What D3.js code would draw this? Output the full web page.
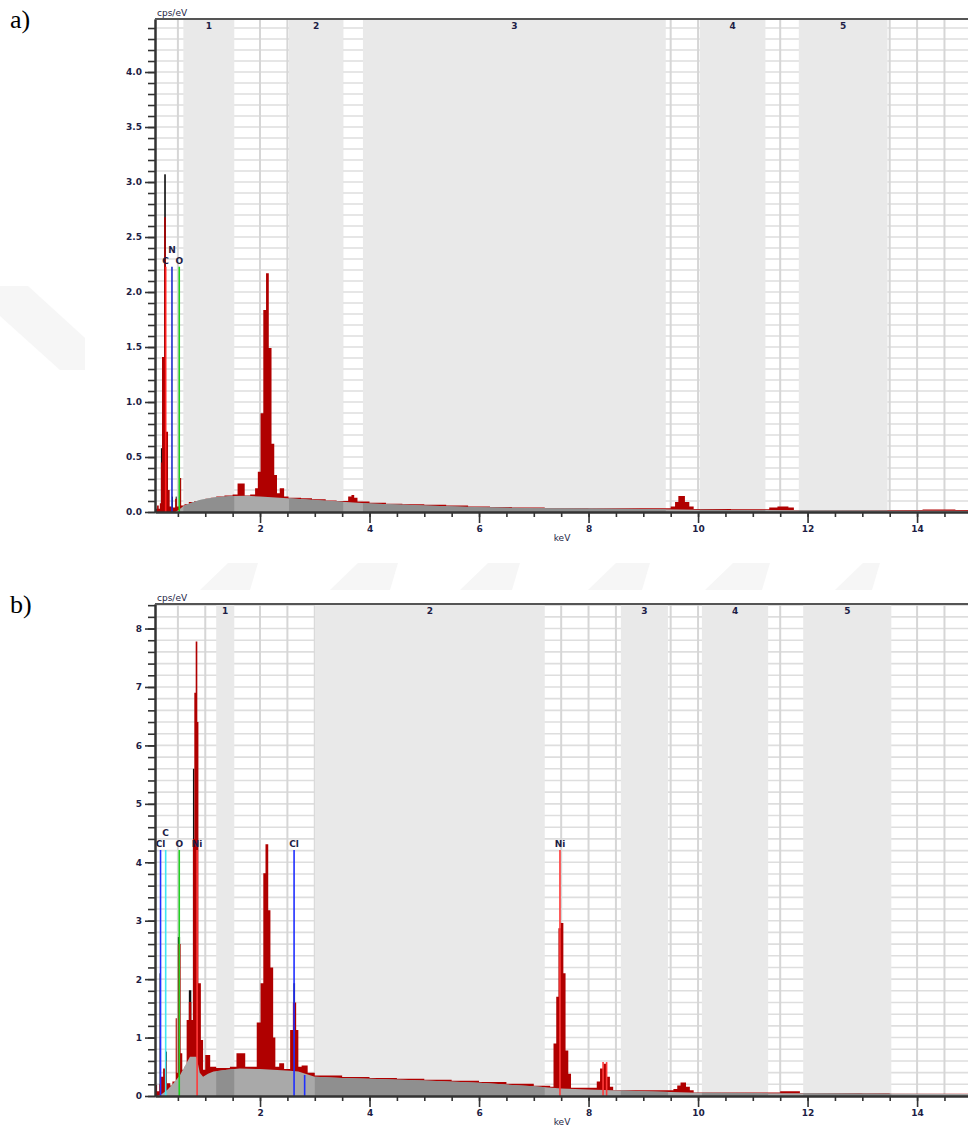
<!DOCTYPE html>
<html>
<head>
<meta charset="utf-8">
<script src="https://cdn.jsdelivr.net/npm/d3@7"></script>
<style>
  html, body { margin: 0; padding: 0; background: #ffffff; }
  svg { display: block; }
  .tick text { font-family: "DejaVu Sans", sans-serif; font-size: 9px; font-weight: bold; fill: #1d1d45; }
  .small { font-family: "DejaVu Sans", sans-serif; font-size: 9px; font-weight: bold; fill: #1d1d45; }
  .panel-tag { font-family: "Liberation Serif", serif; font-size: 26px; fill: #000; }
</style>
</head>
<body>
<svg id="chart" width="968" height="1131"></svg>
<script>
// ---------- shared axis data ----------
const keVRange = [0.082, 14.93];
const xMajorTicks = [2, 4, 6, 8, 10, 12, 14];

// ---------- spectrum a) ----------
const bandsA = [[0.60, 1.53], [2.53, 3.52], [3.88, 9.41], [10.03, 11.23], [11.84, 13.46]];
const bandNamesA = ["1", "2", "3", "4", "5"];
const yMajorTicksA = [0, 0.5, 1.0, 1.5, 2.0, 2.5, 3.0, 3.5, 4.0];
// fitted spectrum, step bins: [start keV, cps/eV]
const spectrumA = [
  [0.082, 0.03], [0.12, 0.06], [0.15, 0.03], [0.17, 0.08], [0.19, 0.45], [0.21, 1.41],
  [0.25, 2.68], [0.28, 0.73], [0.32, 0.20], [0.35, 0.05], [0.39, 0.04], [0.45, 0.12],
  [0.48, 0.05], [0.52, 0.31], [0.56, 0.06], [0.62, 0.07], [0.70, 0.09], [0.80, 0.10],
  [0.90, 0.11], [1.00, 0.12], [1.10, 0.13], [1.20, 0.14], [1.35, 0.15], [1.50, 0.16],
  [1.59, 0.26], [1.72, 0.15], [1.82, 0.16], [1.91, 0.215], [1.96, 0.367], [2.01, 0.897],
  [2.06, 1.836], [2.11, 2.17], [2.16, 1.49], [2.21, 0.62], [2.26, 0.336], [2.31, 0.17],
  [2.36, 0.215], [2.44, 0.14], [2.52, 0.13], [2.75, 0.125], [2.95, 0.115], [3.20, 0.105],
  [3.40, 0.10], [3.61, 0.14], [3.67, 0.155], [3.72, 0.13], [3.78, 0.095], [4.00, 0.085],
  [4.30, 0.075], [4.60, 0.07], [5.00, 0.065], [5.40, 0.06], [5.80, 0.05], [6.20, 0.045],
  [6.60, 0.04], [7.20, 0.037], [8.00, 0.035], [8.80, 0.033], [9.50, 0.05], [9.58, 0.09],
  [9.64, 0.145], [9.76, 0.09], [9.84, 0.05], [9.92, 0.028], [10.60, 0.025], [11.30, 0.04],
  [11.45, 0.05], [11.65, 0.04], [11.75, 0.018], [14.10, 0.022], [14.70, 0.018], [14.93, 0.018]
];
// measured counts where they exceed the fit: [from keV, to keV, cps/eV]
const measuredA = [
  [0.19, 0.21, 0.58], [0.25, 0.28, 3.07], [0.29, 0.31, 0.55], [0.39, 0.41, 0.14], [0.46, 0.47, 0.14]
];
// bremsstrahlung background: [keV, cps/eV]
const backgroundA = [
  [0.082, 0], [0.45, 0], [0.52, 0.02], [0.60, 0.055], [0.75, 0.085], [0.90, 0.108],
  [1.05, 0.122], [1.20, 0.133], [1.50, 0.145], [1.75, 0.148], [2.00, 0.14], [2.50, 0.125],
  [3.00, 0.11], [3.50, 0.094], [4.00, 0.078], [5.00, 0.058], [6.00, 0.043], [7.00, 0.034],
  [8.00, 0.031], [9.00, 0.028], [10.00, 0.02], [12.00, 0.015], [14.93, 0.012]
];
// identified lines: [element, keV, marker height cps/eV]
const elementLinesA = [["C", 0.277, 2.23], ["N", 0.392, 2.23], ["O", 0.525, 2.23]];
const minorLinesA = [];
const lineColorsA = { C: "#ff1e1e", N: "#1f2fc8", O: "#22d022" };

// ---------- spectrum b) ----------
const bandsB = [[1.20, 1.53], [3.00, 7.20], [8.59, 9.45], [10.07, 11.28], [11.92, 13.53]];
const bandNamesB = ["1", "2", "3", "4", "5"];
const yMajorTicksB = [0, 1, 2, 3, 4, 5, 6, 7, 8];
const spectrumB = [
  [0.082, 0.19], [0.12, 0.08], [0.16, 0.20], [0.19, 0.33], [0.23, 0.47], [0.27, 0.60],
  [0.30, 0.22], [0.36, 0.18], [0.40, 0.25], [0.46, 1.33], [0.48, 0.40], [0.50, 2.60],
  [0.55, 0.73], [0.58, 0.45], [0.62, 0.50], [0.66, 1.30], [0.70, 1.61], [0.745, 1.30],
  [0.775, 4.40], [0.80, 6.90], [0.825, 7.78], [0.855, 6.40], [0.875, 1.93], [0.92, 0.96],
  [0.96, 0.45], [1.00, 0.70], [1.09, 0.50], [1.20, 0.48], [1.45, 0.50], [1.57, 0.73],
  [1.73, 0.50], [1.94, 1.26], [2.01, 1.93], [2.06, 3.81], [2.10, 4.31], [2.15, 3.18],
  [2.19, 2.20], [2.24, 1.00], [2.28, 0.50], [2.35, 0.56], [2.44, 0.46], [2.55, 1.13],
  [2.60, 1.60], [2.66, 1.13], [2.70, 0.50], [2.76, 0.52], [2.87, 0.40], [3.00, 0.35],
  [3.50, 0.325], [4.00, 0.31], [4.50, 0.295], [5.00, 0.28], [5.50, 0.26], [6.00, 0.24],
  [6.50, 0.21], [7.00, 0.175], [7.30, 0.16], [7.36, 0.90], [7.41, 1.70], [7.45, 2.87],
  [7.49, 2.96], [7.54, 2.10], [7.58, 0.78], [7.63, 0.38], [7.68, 0.14], [8.15, 0.25],
  [8.21, 0.47], [8.27, 0.55], [8.33, 0.33], [8.39, 0.16], [8.45, 0.10], [9.55, 0.12],
  [9.62, 0.18], [9.68, 0.23], [9.78, 0.16], [9.85, 0.10], [9.92, 0.06], [11.50, 0.08],
  [11.86, 0.05], [13.00, 0.045], [13.50, 0.04], [14.93, 0.04]
];
const measuredB = [
  [0.165, 0.19, 2.10], [0.27, 0.30, 0.76], [0.50, 0.54, 2.72], [0.70, 0.745, 1.81],
  [0.775, 0.80, 5.60], [2.61, 2.64, 1.93]
];
const backgroundB = [
  [0.082, 0], [0.12, 0], [0.20, 0.03], [0.30, 0.10], [0.42, 0.22], [0.54, 0.36],
  [0.65, 0.55], [0.72, 0.67], [0.84, 0.67], [0.90, 0.40], [0.96, 0.33], [1.05, 0.38],
  [1.15, 0.42], [1.40, 0.45], [1.63, 0.47], [2.00, 0.46], [2.55, 0.43], [2.70, 0.42],
  [3.00, 0.33], [3.50, 0.31], [4.00, 0.295], [5.00, 0.265], [6.00, 0.225], [7.00, 0.165],
  [7.50, 0.13], [8.00, 0.11], [9.00, 0.08], [10.00, 0.055], [11.00, 0.05], [12.00, 0.045],
  [14.93, 0.035]
];
const elementLinesB = [["Cl", 0.183, 4.21], ["C", 0.277, 4.21], ["O", 0.525, 4.21],
                       ["Ni", 0.851, 4.21], ["Cl", 2.622, 4.21], ["Ni", 7.478, 4.21]];
const minorLinesB = [["Cl", 2.815, 0.36], ["Ni", 8.265, 0.58], ["Ni", 8.33, 0.58]];
const lineColorsB = { Cl: "#1f2fff", C: "#3ee6f2", O: "#22d022", Ni: "#ff3a3a" };

// ---------- drawing ----------
const svg = d3.select("#chart");

// faint watermark shapes of the page
const wm = svg.append("g").attr("fill", "#f6f6f6");
wm.append("polygon").attr("points", "0,286 28,286 85,338 85,370 60,370 0,316");
[[200, 258], [330, 398], [460, 520], [588, 650], [705, 770], [835, 880]].forEach(([a, b]) => {
  wm.append("polygon").attr("points", `${a},590 ${a + 28},563 ${b},563 ${b - 8},590`);
});

function drawPanel(cfg, idx) {
  const x = d3.scaleLinear().domain(keVRange).range([cfg.left, cfg.right]);
  const y = d3.scaleLinear().domain([0, cfg.yMax]).range([cfg.bottom, cfg.top]);
  const g = svg.append("g");
  const clipId = "plot-clip-" + idx;
  const bandClipId = "band-clip-" + idx;

  const defs = svg.append("defs");
  defs.append("clipPath").attr("id", clipId).append("rect")
    .attr("x", cfg.left).attr("y", cfg.top)
    .attr("width", cfg.right - cfg.left).attr("height", cfg.bottom - cfg.top);
  defs.append("clipPath").attr("id", bandClipId).selectAll("rect").data(cfg.bands).join("rect")
    .attr("x", d => x(d[0])).attr("y", cfg.top)
    .attr("width", d => x(d[1]) - x(d[0])).attr("height", cfg.bottom - cfg.top);

  const plot = g.append("g").attr("clip-path", `url(#${clipId})`);

  // grid
  const hGrid = d3.range(cfg.yMinor, cfg.yMax, cfg.yMinor);
  plot.append("g").selectAll("line").data(hGrid).join("line")
    .attr("x1", cfg.left).attr("x2", cfg.right)
    .attr("y1", d => y(d)).attr("y2", d => y(d))
    .attr("stroke", "#dedede").attr("stroke-width", 1.6);
  const vGrid = d3.range(0.5, 15.01, 0.5);
  plot.append("g").selectAll("line").data(vGrid).join("line")
    .attr("x1", d => x(d)).attr("x2", d => x(d))
    .attr("y1", cfg.top).attr("y2", cfg.bottom)
    .attr("stroke", "#d6d6d6").attr("stroke-width", 2);

  // background-fit regions
  plot.append("g").selectAll("rect").data(cfg.bands).join("rect")
    .attr("x", d => x(d[0])).attr("y", cfg.top)
    .attr("width", d => x(d[1]) - x(d[0])).attr("height", cfg.bottom - cfg.top)
    .attr("fill", "#e9e9e9");

  // measured counts above the fit
  plot.append("g").selectAll("rect").data(cfg.measured).join("rect")
    .attr("x", d => x(d[0])).attr("width", d => Math.max(1, x(d[1]) - x(d[0])))
    .attr("y", d => y(d[2])).attr("height", d => y(0) - y(d[2]))
    .attr("fill", "#111111");

  // fitted spectrum
  const stepArea = d3.area().curve(d3.curveStepAfter)
    .x(d => x(d[0])).y0(y(0)).y1(d => y(d[1]));
  plot.append("path").datum(cfg.spectrum).attr("d", stepArea).attr("fill", "#b00000");

  // background continuum
  const bgArea = d3.area().x(d => x(d[0])).y0(y(0)).y1(d => y(d[1]));
  plot.append("path").datum(cfg.background).attr("d", bgArea).attr("fill", "#a9a9a9");
  plot.append("path").datum(cfg.background).attr("d", bgArea).attr("fill", "#8f8f8f")
    .attr("clip-path", `url(#${bandClipId})`);

  // element markers
  const labelled = cfg.lines.map(d => ({ el: d[0], keV: d[1], h: d[2] }));
  let lastRow0 = -Infinity;
  labelled.forEach(d => {
    const px = x(d.keV);
    d.row = (px - lastRow0 < 10) ? 1 : 0;
    if (d.row === 0) lastRow0 = px;
  });
  const allLines = labelled.concat(cfg.minorLines.map(d => ({ el: d[0], keV: d[1], h: d[2] })));
  plot.append("g").selectAll("line").data(allLines).join("line")
    .attr("x1", d => x(d.keV)).attr("x2", d => x(d.keV))
    .attr("y1", y(0)).attr("y2", d => y(d.h))
    .attr("stroke", d => cfg.colors[d.el]).attr("stroke-width", 1.6);
  g.append("g").selectAll("text").data(labelled).join("text")
    .attr("class", "small")
    .attr("x", d => x(d.keV)).attr("y", d => y(d.h) - 3 - d.row * 11)
    .attr("text-anchor", "middle").text(d => d.el);

  // region numbers
  g.append("g").selectAll("text").data(cfg.bands).join("text")
    .attr("class", "small")
    .attr("x", d => (x(d[0]) + x(d[1])) / 2).attr("y", cfg.top + 10)
    .attr("text-anchor", "middle").text((d, i) => cfg.bandNames[i]);

  // axes
  const yMinorTicks = d3.range(0, cfg.yMax, cfg.yMinor);
  const yMinorAxis = d3.axisLeft(y).tickValues(yMinorTicks).tickSize(7).tickSizeOuter(0).tickFormat("");
  const yMajorAxis = d3.axisLeft(y).tickValues(cfg.yMajor).tickSize(10).tickSizeOuter(0)
    .tickPadding(3).tickFormat(d3.format(cfg.yFormat));
  const xMinorAxis = d3.axisBottom(x).tickValues(d3.range(0.5, 15, 0.5)).tickSize(5).tickSizeOuter(0).tickFormat("");
  const xMajorAxis = d3.axisBottom(x).tickValues(xMajorTicks).tickSize(11).tickSizeOuter(0)
    .tickPadding(3).tickFormat(d3.format("d"));

  const styleAxis = sel => {
    sel.selectAll(".domain").attr("stroke", "#333").attr("stroke-width", 2);
    sel.selectAll(".tick line").attr("stroke", "#333").attr("stroke-width", 1.6);
  };
  g.append("g").attr("transform", `translate(${cfg.left},0)`).call(yMinorAxis).call(styleAxis);
  g.append("g").attr("transform", `translate(${cfg.left},0)`).call(yMajorAxis).call(styleAxis);
  g.append("g").attr("transform", `translate(0,${cfg.bottom})`).call(xMinorAxis).call(styleAxis);
  g.append("g").attr("transform", `translate(0,${cfg.bottom})`).call(xMajorAxis).call(styleAxis);

  // top frame line
  g.append("line").attr("x1", cfg.left).attr("x2", cfg.right)
    .attr("y1", cfg.top).attr("y2", cfg.top)
    .attr("stroke", "#555").attr("stroke-width", 2);

  // axis titles
  g.append("text").attr("class", "small").style("font-weight", "normal")
    .attr("x", cfg.left + 2).attr("y", cfg.top - 3).text("cps/eV");
  g.append("text").attr("class", "small").style("font-weight", "normal")
    .attr("x", 562).attr("y", cfg.bottom + 29).attr("text-anchor", "middle").text("keV");

  // panel tag
  svg.append("text").attr("class", "panel-tag")
    .attr("x", 10).attr("y", cfg.top + cfg.tagOffset).text(cfg.tag);
}

drawPanel({
  tag: "a)", tagOffset: 9, left: 155, right: 968, top: 19, bottom: 512, yMax: 4.482,
  yMinor: 0.1, yMajor: yMajorTicksA, yFormat: ".1f",
  bands: bandsA, bandNames: bandNamesA, spectrum: spectrumA, measured: measuredA,
  background: backgroundA, lines: elementLinesA, minorLines: minorLinesA, colors: lineColorsA
}, 0);

drawPanel({
  tag: "b)", tagOffset: 9, left: 155, right: 968, top: 604, bottom: 1096, yMax: 8.42,
  yMinor: 0.2, yMajor: yMajorTicksB, yFormat: "d",
  bands: bandsB, bandNames: bandNamesB, spectrum: spectrumB, measured: measuredB,
  background: backgroundB, lines: elementLinesB, minorLines: minorLinesB, colors: lineColorsB
}, 1);
</script>
</body>
</html>
